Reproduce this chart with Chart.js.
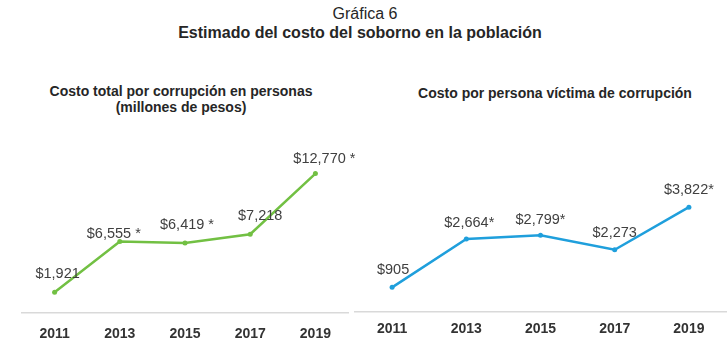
<!DOCTYPE html>
<html lang="es">
<head>
<meta charset="utf-8">
<title>Gráfica 6</title>
<script src="https://cdn.jsdelivr.net/npm/chart.js@4.4.1/dist/chart.umd.min.js"></script>
<style>
  html, body { margin: 0; padding: 0; background: #fff; }
  body { width: 727px; height: 354px; overflow: hidden; position: relative;
         font-family: "Liberation Sans", Arial, sans-serif; color: #262626; }
  .txt { position: absolute; text-align: center; white-space: nowrap; }
  #fig { left: 215px; width: 300px; top: 4px; font-size: 16px; line-height: 20px; }
  #sub { left: 110px; width: 500px; top: 23px; font-size: 16px; line-height: 20px; font-weight: bold; }
  #t1 { left: 31px; width: 300px; top: 83px; font-size: 14px; line-height: 16px; font-weight: bold; }
  #t2 { left: 405px; width: 300px; top: 85px; font-size: 14px; line-height: 16px; font-weight: bold; }
  canvas { position: absolute; }
  #left { left: 0; top: 120px; }
  #right { left: 345px; top: 120px; }
</style>
</head>
<body>
<div class="txt" id="fig">Gráfica 6</div>
<div class="txt" id="sub">Estimado del costo del soborno en la población</div>
<div class="txt" id="t1">Costo total por corrupción en personas<br>(millones de pesos)</div>
<div class="txt" id="t2">Costo por persona víctima de corrupción</div>
<canvas id="left" width="357" height="238"></canvas>
<canvas id="right" width="385" height="238"></canvas>
<script>
// ----- datos --------------------------------------------------------------
const years = ["2011", "2013", "2015", "2017", "2019"];
const totalCost = [1921, 6555, 6419, 7218, 12770];      // millones de pesos
const totalNotes = ["", " *", " *", "", " *"];
const perPerson = [905, 2664, 2799, 2273, 3822];         // pesos por víctima
const perPersonNotes = ["", "*", "*", "", "*"];

const FONT = "'Liberation Sans', Arial, sans-serif";

const fmt = (v, note) => "$" + v.toLocaleString("en-US") + note;

// etiquetas de valor encima de cada punto
const pointText = {
  id: "pointText",
  afterDatasetsDraw(chart, args, opts) {
    const ctx = chart.ctx;
    const meta = chart.getDatasetMeta(0);
    ctx.save();
    ctx.font = "14.5px " + FONT;
    ctx.fillStyle = "#404040";
    ctx.textAlign = "center";
    ctx.textBaseline = "middle";
    meta.data.forEach((pt, i) => {
      const off = (opts.offsets && opts.offsets[i]) || [0, -17];
      ctx.fillText(opts.labels[i], pt.x + off[0], pt.y + off[1]);
    });
    ctx.restore();
  },
};

function lineChart(el, values, labels, color, yMax, pad, tickPad, offsets) {
  return new Chart(el.getContext("2d"), {
    type: "line",
    data: {
      labels: years,
      datasets: [{
        data: values,
        borderColor: color,
        backgroundColor: color,
        borderWidth: 2.5,
        pointRadius: 2.5,
        pointBorderWidth: 0,
        pointBackgroundColor: color,
        tension: 0,
        clip: false,
      }],
    },
    options: {
      responsive: false,
      animation: false,
      layout: { padding: pad },
      plugins: {
        legend: { display: false },
        tooltip: { enabled: false },
        pointText: { labels, offsets },
      },
      scales: {
        x: {
          offset: true,
          grid: { display: false, drawTicks: false },
          border: { color: "#d9d9d9", width: 1.5 },
          ticks: { color: "#333", padding: tickPad, font: { family: FONT, size: 14, weight: "bold" } },
        },
        y: { display: false, min: 0, max: yMax },
      },
    },
    plugins: [pointText],
  });
}

lineChart(
  document.getElementById("left"),
  totalCost,
  totalCost.map((v, i) => fmt(v, totalNotes[i])),
  "#72c043",
  16300,
  { left: 22, right: 9, top: 15, bottom: 2 },
  13,
  [[3, -18], [-6, -8], [2, -18], [10, -18], [9, -15]]
);

lineChart(
  document.getElementById("right"),
  perPerson,
  perPerson.map((v, i) => fmt(v, perPersonNotes[i])),
  "#1f9fdc",
  6450,
  { left: 10, right: 1, top: 15, bottom: 11 },
  9,
  [[1, -17], [3, -16], [0, -15], [0, -17], [0, -17]]
);
</script>
</body>
</html>
